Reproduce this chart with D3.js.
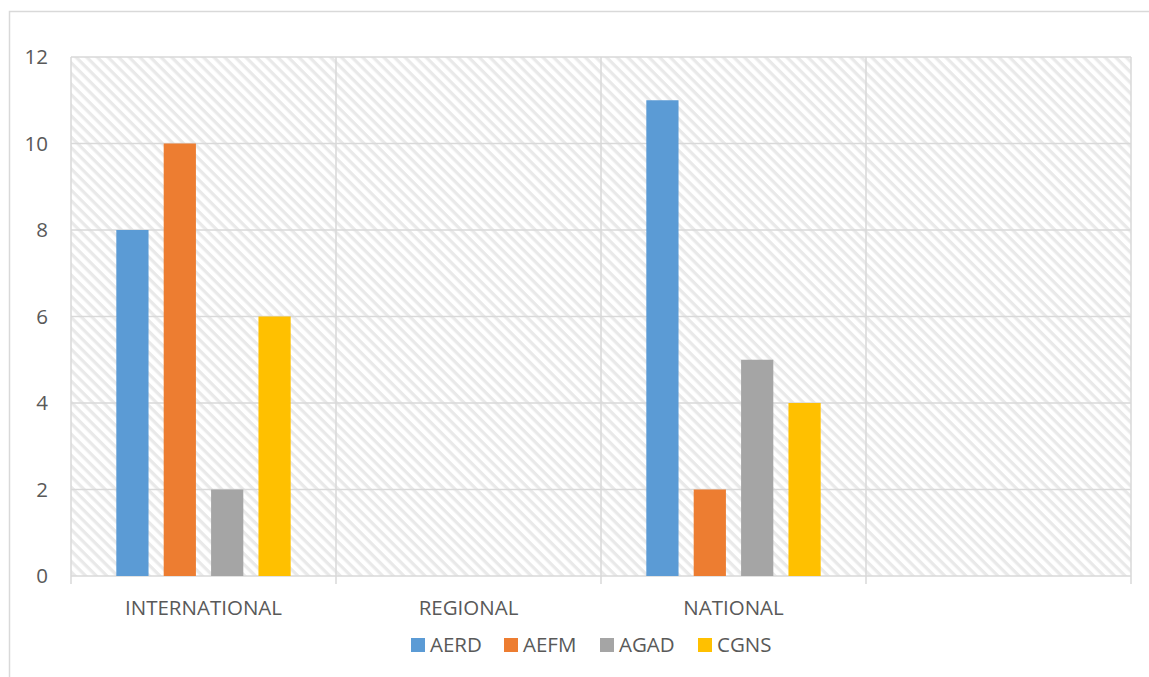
<!DOCTYPE html>
<html><head><meta charset="utf-8">
<script src="https://cdn.jsdelivr.net/npm/d3@7"></script>
<style>body{margin:0;background:#fff}svg{display:block}text{font-family:"Open Sans",sans-serif;fill:#595959}</style>
</head><body><svg id="c" width="1149" height="677"></svg>
<script>
const categories = ["INTERNATIONAL","REGIONAL","NATIONAL",""];
const series = ["AERD","AEFM","AGAD","CGNS"];
const colors = ["#5b9bd5","#ed7d31","#a5a5a5","#ffc000"];
const AERD = [8,0,11,0];
const AEFM = [10,0,2,0];
const AGAD = [2,0,5,0];
const CGNS = [6,0,4,0];
const yTicks = [0,2,4,6,8,10,12];
const values = [AERD,AEFM,AGAD,CGNS];

const FS = "20.5px";
const svg = d3.select("#c");
const L=71, R=1131, T=57, B=576;
svg.append("rect").attr("x",9.5).attr("y",11.5).attr("width",1200).attr("height",700)
  .attr("fill","none").attr("stroke","#d9d9d9").attr("stroke-width",1.5);

const defs = svg.append("defs");
const pat = defs.append("pattern").attr("id","hatch").attr("patternUnits","userSpaceOnUse")
  .attr("width",7.5).attr("height",7.5).attr("patternTransform","rotate(45)");
pat.append("rect").attr("width",7.5).attr("height",7.5).attr("fill","#fff");
pat.append("rect").attr("width",7.5).attr("height",3.2).attr("fill","#e9e9e9");

svg.append("rect").attr("x",L).attr("y",T).attr("width",R-L).attr("height",B-T).attr("fill","url(#hatch)");

const x0 = d3.scaleBand().domain(d3.range(categories.length)).range([L,R]).padding(0);
const bw = x0.bandwidth();
const x1 = d3.scaleBand().domain(series).range([0.171*bw,0.829*bw]).paddingInner(0.32);
const y = d3.scaleLinear().domain([0,12]).range([B,T]);

const g = svg.append("g");
yTicks.forEach(t=>{
  g.append("line").attr("x1",L).attr("x2",R).attr("y1",y(t)).attr("y2",y(t))
   .attr("stroke","#d9d9d9").attr("stroke-width",1.5);
});
d3.range(categories.length+1).forEach(i=>{
  const xx = L + i*bw;
  g.append("line").attr("x1",xx).attr("x2",xx).attr("y1",T).attr("y2",B+8)
   .attr("stroke","#d9d9d9").attr("stroke-width",1.5);
});

series.forEach((s,si)=>{
  svg.append("g").selectAll("rect").data(values[si]).join("rect")
    .attr("x",(d,i)=>x0(i)+x1(s)).attr("width",x1.bandwidth())
    .attr("y",d=>y(d)).attr("height",d=>B-y(d)).attr("fill",colors[si]);
});

const yAxis = svg.append("g").attr("transform",`translate(${L},0)`)
  .call(d3.axisLeft(y).tickValues(yTicks).tickSize(0).tickPadding(23));
yAxis.select(".domain").remove();
yAxis.selectAll("text").style("font-size",FS).attr("fill","#595959").style("font-family","'Open Sans',sans-serif");

const xAxis = svg.append("g").attr("transform",`translate(0,${B})`)
  .call(d3.axisBottom(x0).tickFormat(i=>categories[i]).tickSize(0).tickPadding(0));
xAxis.select(".domain").remove();
xAxis.selectAll("text").attr("dy",null).attr("y",39).style("font-size",FS).attr("fill","#595959").style("font-family","'Open Sans',sans-serif");

const leg = svg.append("g");
const legX = [411,504,600,698];
series.forEach((s,i)=>{
  leg.append("rect").attr("x",legX[i]).attr("y",638).attr("width",14).attr("height",14).attr("fill",colors[i]);
  leg.append("text").attr("x",legX[i]+19).attr("y",652).text(s).style("font-size",FS);
});
</script></body></html>
